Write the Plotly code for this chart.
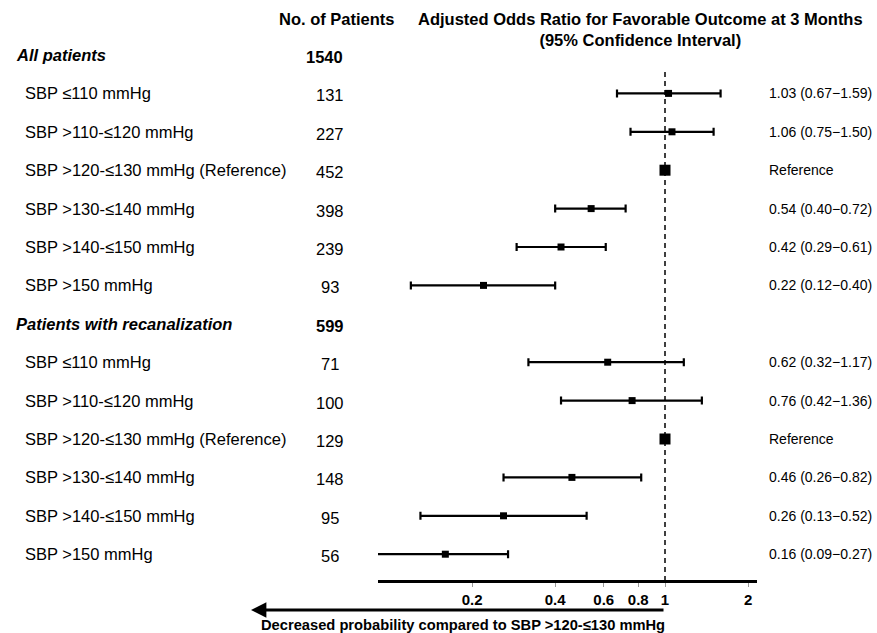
import plotly.graph_objects as go

# ---- data ----
row_labels = ["All patients", "SBP ≤110 mmHg", "SBP >110-≤120 mmHg", "SBP >120-≤130 mmHg (Reference)",
              "SBP >130-≤140 mmHg", "SBP >140-≤150 mmHg", "SBP >150 mmHg",
              "Patients with recanalization", "SBP ≤110 mmHg", "SBP >110-≤120 mmHg",
              "SBP >120-≤130 mmHg (Reference)", "SBP >130-≤140 mmHg", "SBP >140-≤150 mmHg", "SBP >150 mmHg"]
n_patients = ["1540", "131", "227", "452", "398", "239", "93",
              "599", "71", "100", "129", "148", "95", "56"]
is_header = [True, False, False, False, False, False, False,
             True, False, False, False, False, False, False]
odds = [None, 1.03, 1.06, 1.00, 0.54, 0.42, 0.22,
        None, 0.62, 0.76, 1.00, 0.46, 0.26, 0.16]
ci_low = [None, 0.67, 0.75, None, 0.40, 0.29, 0.12,
          None, 0.32, 0.42, None, 0.26, 0.13, 0.09]
ci_high = [None, 1.59, 1.50, None, 0.72, 0.61, 0.40,
           None, 1.17, 1.36, None, 0.82, 0.52, 0.27]
is_ref = [False, False, False, True, False, False, False,
          False, False, False, True, False, False, False]
tick_vals = [0.2, 0.4, 0.6, 0.8, 1, 2]
tick_text = ["0.2", "0.4", "0.6", "0.8", "1", "2"]

W, H = 877, 633
# plot area in window coordinates
L, R = 378, 757
T, B = 0, 580
row0_y, row_step = 55, 38.4


def px(x):
    return (x - L) / (R - L)


def py(y):
    return (B - y) / (B - T)


FONT = "Liberation Sans, Arial, sans-serif"
fig = go.Figure()

idx = [i for i in range(len(row_labels)) if odds[i] is not None and not is_ref[i]]
fig.add_trace(go.Scatter(
    x=[odds[i] for i in idx], y=idx, mode="markers",
    marker=dict(symbol="square", size=7, color="black"),
    error_x=dict(type="data", symmetric=False,
                 array=[ci_high[i] - odds[i] for i in idx],
                 arrayminus=[odds[i] - ci_low[i] for i in idx],
                 thickness=2.2, width=4, color="black"),
    showlegend=False, hoverinfo="skip"))
ridx = [i for i in range(len(row_labels)) if is_ref[i]]
fig.add_trace(go.Scatter(
    x=[odds[i] for i in ridx], y=ridx, mode="markers",
    marker=dict(symbol="square", size=11, color="black"),
    showlegend=False, hoverinfo="skip"))

ymin_i = (72 - row0_y) / row_step
ymax_i = (B - row0_y) / row_step
fig.add_trace(go.Scatter(x=[1, 1], y=[ymin_i, ymax_i], mode="lines",
                         line=dict(color="black", width=1.5, dash="5px,4px"),
                         showlegend=False, hoverinfo="skip"))

ann = []
fs = 16.5
for i, lab in enumerate(row_labels):
    num_x = 330
    if is_header[i]:
        if i == 0:
            num_x = 324
        ann.append(dict(x=px(14), y=i, xref="paper", yref="y", text="<b><i>%s</i></b>" % lab,
                        xanchor="left", yanchor="middle", showarrow=False,
                        font=dict(size=fs, color="black", family=FONT)))
        ann.append(dict(x=px(num_x), y=i + 0.05, xref="paper", yref="y", text="<b>%s</b>" % n_patients[i],
                        xanchor="center", yanchor="middle", showarrow=False,
                        font=dict(size=fs, color="black", family=FONT)))
    else:
        ann.append(dict(x=px(23), y=i, xref="paper", yref="y", text=lab,
                        xanchor="left", yanchor="middle", showarrow=False,
                        font=dict(size=fs, color="black", family=FONT)))
        ann.append(dict(x=px(num_x), y=i + 0.05, xref="paper", yref="y", text=n_patients[i],
                        xanchor="center", yanchor="middle", showarrow=False,
                        font=dict(size=fs, color="black", family=FONT)))
        if is_ref[i]:
            rt = "Reference"
        else:
            rt = "%.2f (%.2f\u2212%.2f)" % (odds[i], ci_low[i], ci_high[i])
        ann.append(dict(x=px(767), y=i, xref="paper", yref="y", text=rt,
                        xanchor="left", yanchor="middle", showarrow=False,
                        font=dict(size=14, color="black", family=FONT)))

ann.append(dict(x=px(337), y=py(19), xref="paper", yref="paper", text="<b>No. of Patients</b>",
                xanchor="center", yanchor="middle", showarrow=False,
                font=dict(size=fs, color="black", family=FONT)))
ann.append(dict(x=px(640), y=py(30), xref="paper", yref="paper",
                text="<b>Adjusted Odds Ratio for Favorable Outcome at 3 Months<br>(95% Confidence Interval)</b>",
                xanchor="center", yanchor="middle", showarrow=False, align="center",
                font=dict(size=fs, color="black", family=FONT)))
ann.append(dict(x=px(251), y=py(610), xref="paper", yref="paper", text="",
                showarrow=True, ax=665 - 251, ay=0, axref="pixel", ayref="pixel",
                arrowhead=2, arrowsize=1.1, arrowwidth=2.8, arrowcolor="black"))
ann.append(dict(x=px(463), y=py(625), xref="paper", yref="paper",
                text="<b>Decreased probability compared to SBP >120-≤130 mmHg</b>",
                xanchor="center", yanchor="middle", showarrow=False,
                font=dict(size=14.7, color="black", family=FONT)))

x_lo = -(665 - L) / 276.0
x_hi = (R - 665) / 276.0
fig.update_layout(
    width=W, height=H, margin=dict(l=L, r=W - R, t=T, b=H - B),
    paper_bgcolor="white", plot_bgcolor="white",
    annotations=ann,
    xaxis=dict(type="log", range=[x_lo, x_hi], tickvals=tick_vals,
               ticktext=["<b>%s</b>" % t for t in tick_text],
               showline=True, linecolor="black", linewidth=3,
               ticks="outside", ticklen=4, tickcolor="#999", tickwidth=1,
               showgrid=False, zeroline=False,
               tickfont=dict(size=15, color="black", family=FONT)),
    yaxis=dict(range=[(B - row0_y) / row_step, (T - row0_y) / row_step], visible=False,
               showgrid=False, zeroline=False),
)
fig.write_html("out.html", config={"displayModeBar": False},
               post_script="document.body.style.margin='0';document.body.style.overflow='hidden';")
